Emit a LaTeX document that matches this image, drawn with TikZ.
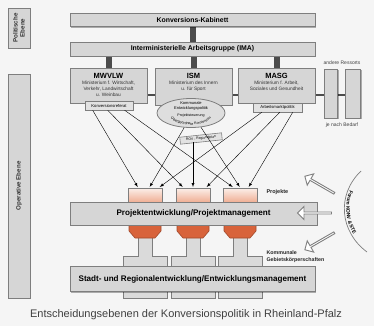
\documentclass[tikz,border=0pt]{standalone}
\usepackage{fontspec}
\setmainfont{Liberation Sans}
\usetikzlibrary{shadows,shapes.geometric,shapes.arrows,decorations.text,calc}
\definecolor{bg}{HTML}{F5F5F5}
\definecolor{boxfill}{HTML}{D6D6D6}
\definecolor{boxline}{HTML}{7E7E7E}
\definecolor{conn}{HTML}{4C4C4C}
\definecolor{projtop}{HTML}{FBEEE8}
\definecolor{projbot}{HTML}{EEA486}
\definecolor{projdark}{HTML}{D8633B}
\begin{document}
\begin{tikzpicture}[x=1pt,y=-1pt,>=latex,
  ebox/.style={draw=boxline,fill=boxfill,line width=.8pt,inner sep=0pt,
    drop shadow={shadow xshift=1.2pt,shadow yshift=-1.2pt,fill=black,opacity=.3}},
  sbox/.style={draw=boxline,fill=boxfill!70!white,line width=.6pt,inner sep=0pt,font=\fontsize{4.2}{5}\selectfont},
  ttl/.style={font=\bfseries\fontsize{6.9}{7.5}\selectfont},
  big/.style={font=\bfseries\fontsize{8.1}{9}\selectfont},
  head/.style={font=\bfseries\fontsize{7.5}{8}\selectfont,anchor=north},
  sub/.style={font=\fontsize{4.8}{6}\selectfont,align=center,anchor=north,text=black!80},
  lvl/.style={font=\bfseries\fontsize{6.2}{7}\selectfont,text=black!80},
  lbl/.style={font=\bfseries\fontsize{5.5}{6.5}\selectfont,text=black!85},
  dconn/.style={draw=conn,line width=6pt},
  proj/.style={draw=boxline,line width=.6pt,top color=projtop,bottom color=projbot,
    minimum width=34,minimum height=16,anchor=north,inner sep=0pt},
  barrow/.style={single arrow,draw=boxline,fill=white,line width=.9pt,minimum height=34,
    minimum width=13,single arrow head extend=2.5pt,inner sep=0pt}]
\useasboundingbox (0,0) rectangle (374,326);
\fill[bg] (0,0) rectangle (374,326);
% levels at the left
\node[ebox,minimum width=22,minimum height=40] (pol) at (19,28) {};
\node[lvl,rotate=90,align=center] at (pol) {Politische\\Ebene};
\node[ebox,minimum width=22,minimum height=224] (op) at (19,186) {};
\node[lvl,rotate=90] at (op) {Operative Ebene};
% political level
\draw[draw=conn,line width=1.6pt] (108.5,95) -- (352,95);
\draw[dconn] (192.5,20) -- (192.5,49);
\draw[dconn] (108.5,49) -- (108.5,70);
\draw[dconn] (193.5,49) -- (193.5,70);
\draw[dconn] (277,49) -- (277,70);
\node[ebox,ttl,minimum width=245,minimum height=13] (kab) at (192.5,20) {Konversions-Kabinett};
\node[ebox,ttl,minimum width=245,minimum height=14] (ima) at (192.5,49) {Interministerielle Arbeitsgruppe (IMA)};
\node[ebox,minimum width=77,minimum height=35] (mw) at (108.5,85.5) {};
\node[head] at ($(mw.north)+(0,2)$) {MWVLW};
\node[sub] at ($(mw.north)+(0,10)$) {Ministerium f. Wirtschaft,\\Verkehr, Landwirtschaft\\u. Weinbau};
\node[ebox,minimum width=77,minimum height=37] (ism) at (193.5,86.5) {};
\node[head] at ($(ism.north)+(0,2)$) {ISM};
\node[sub] at ($(ism.north)+(0,10)$) {Ministerium des Innern\\u. für Sport};
\node[ebox,minimum width=77,minimum height=35] (masg) at (276.5,85.5) {};
\node[head] at ($(masg.north)+(0,2)$) {MASG};
\node[sub] at ($(masg.north)+(0,10)$) {Ministerium f. Arbeit,\\Soziales und Gesundheit};
\node[ebox,minimum width=13,minimum height=49] (res1) at (331,93.5) {};
\node[ebox,minimum width=15,minimum height=49] (res2) at (353,93.5) {};
\node[font=\fontsize{5}{6}\selectfont,text=black!75] (resl) at (342,63) {andere Ressorts};
\node[font=\fontsize{5}{6}\selectfont,text=black!75] (bed) at (342,125) {je nach Bedarf};
\node[sbox,minimum width=48,minimum height=9] (kref) at (109,105.5) {Konversionsreferat};
\node[sbox,minimum width=49,minimum height=9] (amp) at (277.5,107.5) {Arbeitsmarktpolitik};
\node[ellipse,draw=boxline,fill=boxfill!80!white,line width=.8pt,minimum width=68,minimum height=29,inner sep=0pt] (ell) at (191,113) {};
\node[font=\fontsize{4}{4.6}\selectfont,align=center] at (191,106) {Kommunale\\Entwicklungspolitik};
\node[font=\fontsize{3.6}{4}\selectfont] at (191,116) {Projektsteuerung};
\path[decorate,decoration={text along path,text align=center,
  text={|\fontsize{3.6}{4}\selectfont|Übergeordnete Konversion}}] (171,119) .. controls (182,127) and (200,127) .. (211,119);
\node[sbox,rotate=6,minimum width=42,minimum height=7,font=\fontsize{3.4}{4}\selectfont] (rov) at (201,138.5) {ROV - Regionalplan};
% operative level
\foreach \c in {145,193,240}{
  \filldraw[fill=boxfill!90!white,draw=boxline,line width=.6pt] (\c-7,236) -- (\c+7,236) -- (\c+7,256) -- (\c+22,256)
    -- (\c+22,298) -- (\c-22,298) -- (\c-22,256) -- (\c-7,256) -- cycle;
  \filldraw[fill=projdark,draw=projdark!75!black,line width=.6pt] (\c-16,224) -- (\c+16,224) -- (\c+16,231)
    -- (\c+10,238) -- (\c-10,238) -- (\c-16,231) -- cycle;}
\node[proj] (p1) at (145,188) {};
\node[proj] (p2) at (193,188) {};
\node[proj] (p3) at (240,188) {};
\node[lbl,anchor=west] (pl) at (263,192) {Projekte};
\node[ebox,big,minimum width=247,minimum height=23] (pm) at (193.5,213.5) {Projektentwicklung/Projektmanagement};
\node[ebox,big,minimum width=245,minimum height=25] (srm) at (192.5,279) {Stadt- und Regionalentwicklung/Entwicklungsmanagement};
% arrows to the projects
\draw[->] ($(kref.south west)+(8,0)$) -- ($(p1.north west)+(10,-1)$);
\draw[->] ($(kref.south west)+(23,0)$) -- ($(p2.north west)+(7,-1)$);
\draw[->] ($(kref.south west)+(40,0)$) -- ($(p3.north west)+(10,-1)$);
\draw[->] (ell.245) -- ($(p1.north west)+(22,-1)$);
\draw[->] (ell.305) -- ($(p3.north west)+(17,-1)$);
\draw[->] (rov.south -| p2.north) -- ($(p2.north)+(0,-1)$);
\draw[->] ($(amp.south west)+(9,0)$) -- ($(p1.north west)+(32,-1)$);
\draw[->] ($(amp.south west)+(27,0)$) -- ($(p2.north west)+(31,-1)$);
\draw[->] ($(amp.south west)+(40,0)$) -- ($(p3.north west)+(26,-1)$);
% forum at the right
\node[barrow,rotate=150] (a1) at (320,185) {};
\node[barrow,rotate=180] (a2) at (315,213) {};
\node[barrow,rotate=210] (a3) at (320,241) {};
\draw[boxline,line width=.7pt] (361,171) .. controls (336,195) and (340,232) .. (367,252);
\path[decorate,decoration={text along path,text align=center,raise=2pt,
  text={|\bfseries\fontsize{5}{6}\selectfont|Forum KONV {\&} STE}}] (361,171) .. controls (336,195) and (340,232) .. (367,252);
\node[lbl,anchor=west,align=left,font=\bfseries\fontsize{5.3}{7}\selectfont] (kg) at (263,257) {Kommunale\\Gebietskörperschaften};
\node[font=\fontsize{11}{12}\selectfont,text=black!75] (cap) at (186,315) {Entscheidungsebenen der Konversionspolitik in Rheinland-Pfalz};
\end{tikzpicture}
\end{document}
